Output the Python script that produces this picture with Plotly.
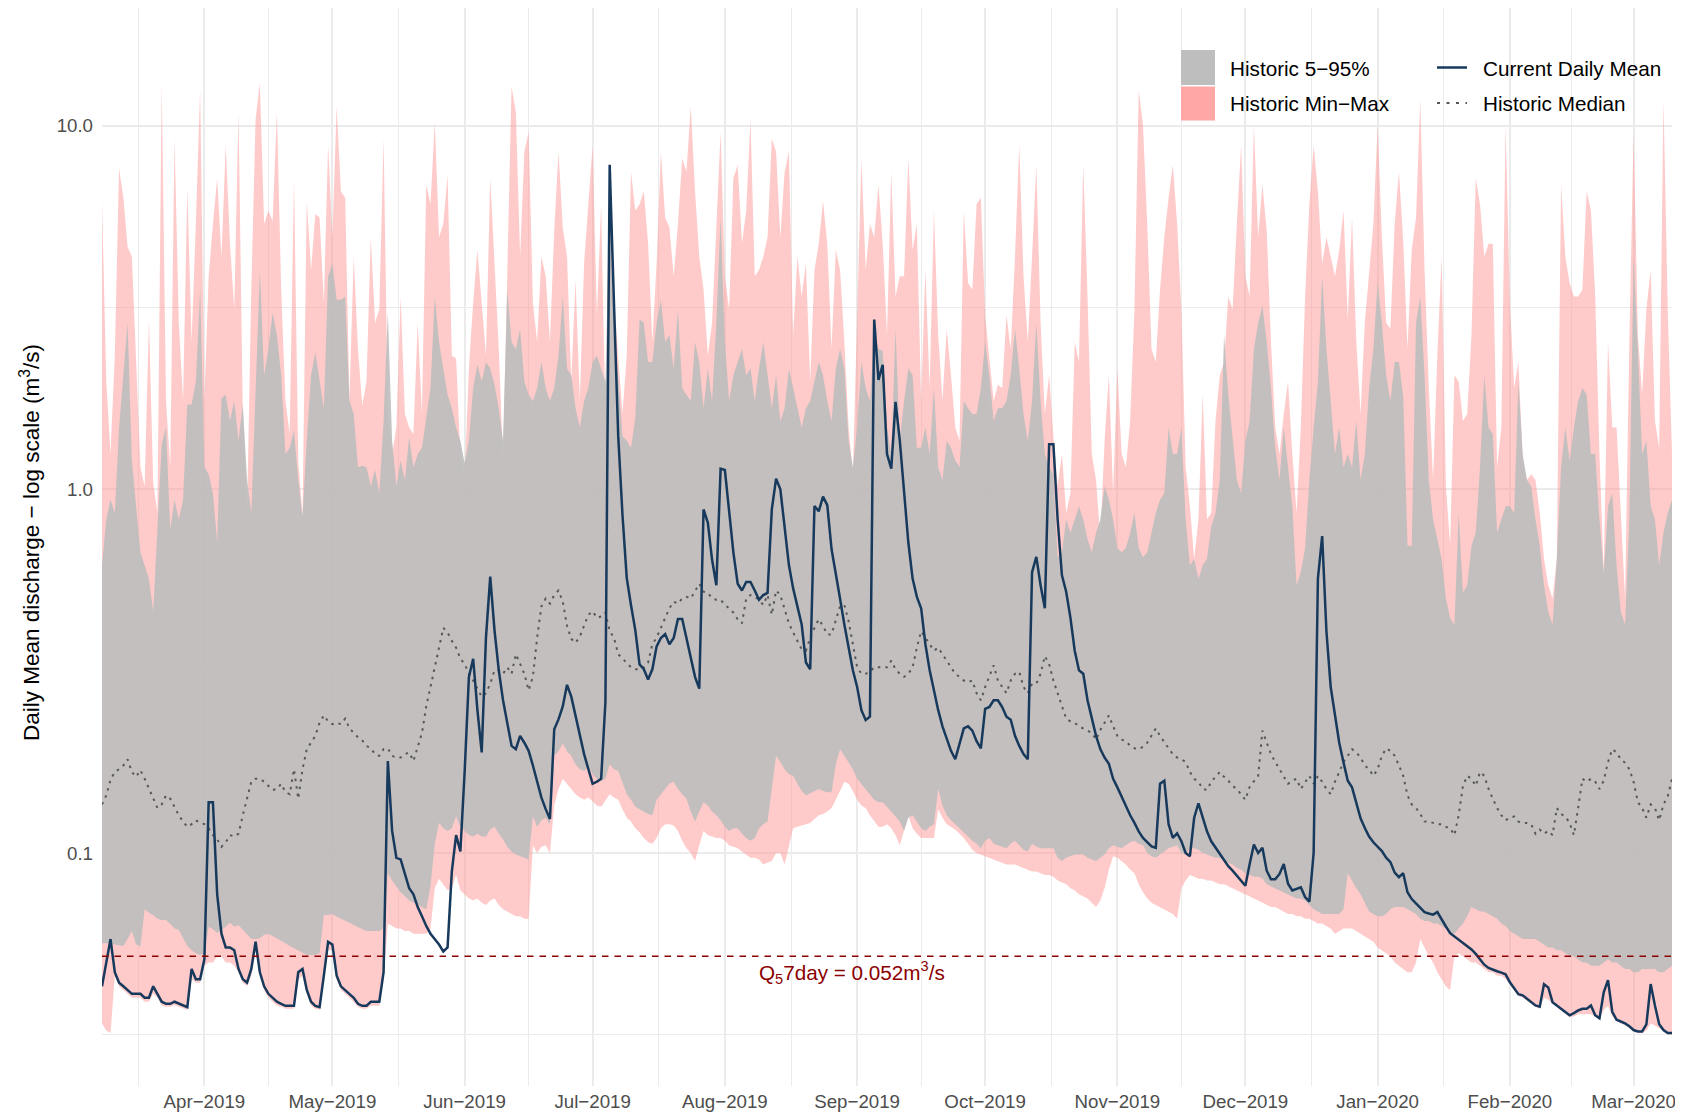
import numpy as np
import pandas as pd
import plotly.graph_objects as go

# ---------------- data (daily, 2019-03-08 .. 2020-03-10) ----------------
dates = pd.date_range("2019-03-08", "2020-03-10", freq="D")

current_mean = [
    0.043, 0.050, 0.058, 0.047, 0.044, 0.043, 0.042, 0.041, 0.041, 0.041,
    0.040, 0.040, 0.043, 0.041, 0.039, 0.0385, 0.0385, 0.039, 0.0385, 0.038,
    0.0377, 0.048, 0.045, 0.045, 0.051, 0.138, 0.138, 0.077, 0.060, 0.055,
    0.055, 0.054, 0.048, 0.045, 0.044, 0.048, 0.057, 0.047, 0.043, 0.041,
    0.040, 0.039, 0.0385, 0.038, 0.038, 0.038, 0.047, 0.048, 0.042, 0.039,
    0.038, 0.0377, 0.046, 0.057, 0.056, 0.046, 0.043, 0.042, 0.041, 0.040,
    0.0385, 0.038, 0.038, 0.039, 0.039, 0.039, 0.047, 0.179, 0.115, 0.097,
    0.096, 0.088, 0.080, 0.077, 0.071, 0.067, 0.063, 0.060, 0.058, 0.056,
    0.0536, 0.055, 0.089, 0.112, 0.101, 0.167, 0.305, 0.342, 0.247, 0.189,
    0.391, 0.575, 0.41, 0.318, 0.263, 0.226, 0.197, 0.193, 0.210, 0.201,
    0.191, 0.174, 0.157, 0.142, 0.132, 0.124, 0.219, 0.233, 0.253, 0.29,
    0.269, 0.237, 0.21, 0.187, 0.170, 0.155, 0.157, 0.160, 0.26, 7.8,
    3.25, 1.4, 0.85, 0.57, 0.48, 0.41, 0.33, 0.32, 0.30, 0.32,
    0.37, 0.39, 0.40, 0.375, 0.39, 0.44, 0.44, 0.39, 0.345, 0.305,
    0.283, 0.88, 0.81, 0.64, 0.545, 1.14, 1.13, 0.86, 0.67, 0.55,
    0.527, 0.556, 0.556, 0.527, 0.497, 0.512, 0.519, 0.88, 1.07, 1.0,
    0.79, 0.62, 0.534, 0.48, 0.425, 0.334, 0.32, 0.90, 0.87, 0.955,
    0.905, 0.685, 0.59, 0.50, 0.425, 0.367, 0.318, 0.286, 0.247, 0.232,
    0.237, 2.93, 2.0, 2.2, 1.25, 1.14, 1.74, 1.36, 0.975, 0.714,
    0.568, 0.506, 0.471, 0.375, 0.318, 0.278, 0.247, 0.223, 0.205, 0.191,
    0.181, 0.201, 0.22, 0.223, 0.217, 0.203, 0.194, 0.249, 0.252, 0.263,
    0.263, 0.252, 0.237, 0.2325, 0.21, 0.197, 0.187, 0.181, 0.592, 0.652,
    0.545, 0.471, 1.33, 1.33, 0.826, 0.58, 0.523, 0.443, 0.36, 0.318,
    0.311, 0.263, 0.2325, 0.21, 0.193, 0.183, 0.176, 0.160, 0.1515, 0.143,
    0.134, 0.127, 0.121, 0.1147, 0.110, 0.107, 0.1043, 0.1034, 0.155, 0.158,
    0.12, 0.110, 0.1133, 0.1077, 0.100, 0.098, 0.125, 0.137, 0.125, 0.1147,
    0.1077, 0.1034, 0.0992, 0.0951, 0.092, 0.0894, 0.0865, 0.084, 0.0813, 0.0932,
    0.1055, 0.100, 0.1034, 0.0894, 0.0847, 0.0847, 0.0876, 0.0932, 0.0823, 0.0789,
    0.0796, 0.0805, 0.0757, 0.0735, 0.10, 0.568, 0.744, 0.407, 0.286, 0.2425,
    0.201, 0.1775, 0.158, 0.1515, 0.1383, 0.1246, 0.1171, 0.111, 0.107, 0.1043,
    0.1012, 0.0971, 0.0944, 0.0883, 0.0858, 0.088, 0.078, 0.0747, 0.0726, 0.0705,
    0.0688, 0.0682, 0.0677, 0.0688, 0.066, 0.0628, 0.0602, 0.059, 0.0578, 0.0566,
    0.0554, 0.0543, 0.0528, 0.051, 0.0493, 0.0483, 0.0477, 0.0473, 0.0469, 0.0464,
    0.0441, 0.0423, 0.0409, 0.0406, 0.0398, 0.0389, 0.0381, 0.0378, 0.0436, 0.0427,
    0.0389, 0.0381, 0.0373, 0.0366, 0.0358, 0.0363, 0.0369, 0.0373, 0.0373, 0.0381,
    0.0358, 0.0351, 0.0414, 0.0447, 0.0366, 0.0348, 0.0344, 0.034, 0.0334, 0.0326,
    0.0323, 0.0323, 0.0338, 0.0436, 0.0381, 0.0338, 0.0326, 0.032, 0.032,
]

hist_median = [
    0.136, 0.144, 0.159, 0.167, 0.170, 0.174, 0.181, 0.167, 0.162, 0.169,
    0.160, 0.150, 0.141, 0.133, 0.136, 0.144, 0.141, 0.134, 0.127, 0.122,
    0.118, 0.120, 0.123, 0.121, 0.120, 0.117, 0.112, 0.109, 0.104, 0.107,
    0.112, 0.111, 0.113, 0.127, 0.141, 0.157, 0.160, 0.160, 0.157, 0.153,
    0.149, 0.150, 0.155, 0.147, 0.145, 0.170, 0.141, 0.170, 0.193, 0.201,
    0.210, 0.228, 0.239, 0.230, 0.226, 0.228, 0.226, 0.234, 0.220, 0.214,
    0.208, 0.204, 0.197, 0.194, 0.187, 0.185, 0.193, 0.194, 0.185, 0.183,
    0.183, 0.187, 0.189, 0.179, 0.197, 0.214, 0.253, 0.286, 0.318, 0.367,
    0.416, 0.404, 0.383, 0.367, 0.342, 0.331, 0.311, 0.298, 0.283, 0.269,
    0.275, 0.292, 0.318, 0.318, 0.311, 0.324, 0.311, 0.352, 0.331, 0.311,
    0.280, 0.305, 0.391, 0.477, 0.501, 0.485, 0.512, 0.527, 0.491, 0.421,
    0.388, 0.378, 0.394, 0.421, 0.452, 0.462, 0.443, 0.447, 0.458, 0.407,
    0.391, 0.352, 0.342, 0.334, 0.324, 0.320, 0.320, 0.324, 0.334, 0.375,
    0.391, 0.416, 0.443, 0.471, 0.491, 0.485, 0.501, 0.506, 0.501, 0.523,
    0.550, 0.523, 0.519, 0.501, 0.497, 0.497, 0.481, 0.471, 0.458, 0.439,
    0.428, 0.501, 0.512, 0.506, 0.497, 0.481, 0.512, 0.452, 0.527, 0.512,
    0.471, 0.428, 0.404, 0.383, 0.363, 0.360, 0.391, 0.416, 0.439, 0.421,
    0.399, 0.399, 0.434, 0.477, 0.481, 0.434, 0.375, 0.324, 0.311, 0.311,
    0.315, 0.324, 0.324, 0.324, 0.324, 0.338, 0.320, 0.311, 0.305, 0.311,
    0.324, 0.367, 0.407, 0.391, 0.375, 0.360, 0.367, 0.352, 0.338, 0.324,
    0.311, 0.305, 0.298, 0.295, 0.298, 0.275, 0.263, 0.286, 0.307, 0.328,
    0.298, 0.286, 0.275, 0.298, 0.311, 0.315, 0.286, 0.275, 0.292, 0.292,
    0.311, 0.348, 0.331, 0.298, 0.275, 0.253, 0.234, 0.230, 0.228, 0.223,
    0.220, 0.217, 0.214, 0.205, 0.218, 0.228, 0.239, 0.223, 0.210, 0.205,
    0.203, 0.197, 0.194, 0.193, 0.196, 0.201, 0.211, 0.220, 0.210, 0.201,
    0.194, 0.187, 0.183, 0.181, 0.178, 0.167, 0.160, 0.157, 0.150, 0.149,
    0.157, 0.162, 0.167, 0.162, 0.158, 0.153, 0.150, 0.145, 0.140, 0.152,
    0.158, 0.163, 0.217, 0.201, 0.187, 0.178, 0.170, 0.163, 0.155, 0.158,
    0.160, 0.150, 0.157, 0.163, 0.155, 0.163, 0.157, 0.150, 0.145, 0.157,
    0.167, 0.178, 0.185, 0.193, 0.189, 0.183, 0.174, 0.170, 0.163, 0.170,
    0.185, 0.194, 0.191, 0.185, 0.174, 0.163, 0.144, 0.136, 0.133, 0.128,
    0.122, 0.122, 0.121, 0.120, 0.120, 0.118, 0.117, 0.112, 0.127, 0.153,
    0.163, 0.160, 0.153, 0.167, 0.163, 0.150, 0.141, 0.133, 0.127, 0.123,
    0.125, 0.126, 0.122, 0.121, 0.121, 0.120, 0.113, 0.116, 0.113, 0.115,
    0.112, 0.133, 0.128, 0.126, 0.121, 0.112, 0.133, 0.160, 0.157, 0.160,
    0.157, 0.150, 0.158, 0.178, 0.193, 0.189, 0.181, 0.177, 0.170, 0.157,
    0.138, 0.133, 0.125, 0.136, 0.133, 0.123, 0.136, 0.143, 0.160,
]

hist_max = [
    6.2, 1.98, 1.25, 2.33, 7.63, 6.33, 4.64, 4.36, 2.24, 1.15,
    1.02, 2.93, 1.04, 0.861, 13.1, 1.75, 1.15, 9.2, 2.87, 1.75,
    6.74, 2.54, 5.36, 12.6, 1.75, 3.85, 5.36, 7.17, 4.36, 8.83,
    4.73, 3.12, 10.9, 1.61, 0.861, 3.54, 10.4, 13.1, 5.36, 5.83,
    5.47, 10.9, 3.54, 1.75, 1.42, 7.17, 1.20, 0.843, 6.20, 4.01,
    5.71, 5.59, 3.26, 8.83, 4.93, 11.3, 6.60, 6.33, 1.75, 4.36,
    2.43, 1.7, 1.98, 4.93, 2.87, 3.12, 9.2, 1.61, 1.25, 1.48,
    3.39, 1.61, 1.48, 1.42, 2.87, 1.61, 6.88, 6.08, 10.2, 4.93,
    5.36, 7.32, 2.33, 2.29, 1.25, 1.06, 2.15, 3.26, 4.55, 3.26,
    2.33, 7.17, 4.18, 2.43, 1.20, 4.36, 12.8, 10.9, 4.36, 8.47,
    9.6, 3.26, 2.54, 4.36, 3.85, 2.54, 5.14, 8.47, 5.25, 4.36,
    1.98, 3.77, 1.75, 4.18, 6.08, 8.83, 3.0, 6.08, 1.54, 8.1,
    3.39, 2.33, 1.61, 2.33, 7.47, 5.83, 6.08, 6.60, 4.73, 2.54,
    4.18, 8.47, 5.59, 5.25, 3.85, 5.36, 8.12, 7.47, 11.3, 6.60,
    4.36, 3.54, 2.33, 2.87, 5.14, 9.6, 3.85, 3.12, 7.17, 7.79,
    4.73, 5.83, 10.4, 3.85, 4.01, 4.36, 4.93, 9.2, 8.47, 4.93,
    7.47, 8.47, 2.65, 4.36, 3.39, 4.18, 1.98, 4.01, 4.73, 6.20,
    4.73, 2.43, 4.55, 4.01, 2.54, 1.48, 1.10, 3.26, 8.12, 4.01,
    5.36, 4.93, 6.88, 4.73, 2.65, 7.47, 3.39, 3.85, 3.85, 8.12,
    4.55, 5.36, 1.75, 4.01, 1.90, 5.83, 2.65, 1.75, 2.76, 2.06,
    1.48, 1.36, 5.83, 3.69, 3.54, 6.08, 6.33, 3.0, 2.33, 1.75,
    1.94, 1.90, 3.0, 2.43, 4.36, 8.83, 3.85, 2.54, 4.36, 7.79,
    2.87, 1.61, 2.06, 1.4, 1.02, 1.25, 0.861, 0.975, 2.54, 2.24,
    7.79, 3.39, 1.25, 1.06, 0.73, 1.36, 2.06, 0.975, 2.15, 1.25,
    1.15, 1.54, 3.12, 12.5, 10.0, 5.36, 2.43, 2.24, 3.54, 4.93,
    6.33, 7.79, 5.36, 3.12, 1.15, 0.898, 0.643, 0.826, 1.82, 0.826,
    0.861, 1.54, 2.06, 2.24, 3.39, 3.12, 5.36, 8.83, 3.85, 3.39,
    10.0, 4.93, 6.88, 5.14, 2.54, 1.48, 1.25, 1.61, 1.98, 1.25,
    0.861, 1.48, 3.39, 6.08, 8.83, 6.60, 4.18, 4.93, 4.36, 3.85,
    4.55, 5.83, 2.93, 5.59, 2.54, 1.61, 2.87, 3.85, 5.36, 10.0,
    4.93, 2.87, 2.76, 5.36, 7.47, 4.8, 2.43, 4.55, 5.59, 11.8,
    4.01, 1.90, 1.06, 2.33, 4.36, 1.02, 0.70, 2.06, 1.98, 1.54,
    1.61, 2.65, 7.17, 6.08, 4.36, 4.73, 4.73, 1.15, 1.48, 10.0,
    3.26, 1.90, 2.24, 1.20, 1.06, 1.10, 1.06, 0.861, 0.643, 0.545,
    0.50, 0.643, 6.88, 4.36, 3.69, 3.39, 3.39, 3.54, 6.60, 5.83,
    3.39, 1.25, 0.59, 2.54, 1.48, 1.48, 0.826, 0.50, 2.54, 9.6,
    2.65, 1.82, 3.12, 4.01, 1.54, 1.30, 11.8, 3.12, 1.25,
]

hist_p95 = [
    0.618, 0.826, 0.936, 0.861, 1.48, 2.06, 2.87, 1.20, 0.898, 0.671,
    0.618, 0.568, 0.4615, 0.760, 1.33, 1.48, 0.776, 0.936, 0.826, 0.936,
    1.71, 1.71, 1.98, 3.54, 1.15, 1.10, 0.975, 0.714, 1.78, 1.82,
    1.54, 1.75, 1.36, 1.71, 1.06, 0.861, 1.98, 4.01, 2.06, 2.43,
    3.06, 2.65, 2.06, 1.25, 1.30, 1.45, 1.06, 0.843, 1.36, 2.06,
    2.38, 1.98, 1.67, 3.85, 4.18, 3.32, 3.32, 3.39, 1.75, 1.61,
    1.15, 1.16, 1.15, 1.02, 1.13, 0.975, 1.54, 3.06, 1.36, 1.02,
    1.20, 1.06, 1.39, 1.15, 1.25, 1.30, 1.57, 1.90, 3.39, 2.54,
    2.15, 1.82, 1.67, 1.48, 1.36, 1.18, 1.36, 1.90, 2.20, 1.98,
    2.24, 2.15, 1.94, 1.67, 1.36, 3.54, 2.54, 2.43, 2.76, 1.98,
    1.82, 1.75, 1.90, 2.24, 1.90, 1.75, 1.90, 2.33, 3.39, 2.15,
    2.06, 1.67, 1.48, 1.75, 1.90, 2.24, 2.33, 2.15, 1.98, 5.83,
    2.65, 2.06, 1.4, 1.36, 1.30, 1.57, 2.93, 2.87, 2.24, 2.24,
    2.87, 3.32, 2.54, 2.65, 2.15, 3.12, 1.90, 1.82, 1.75, 2.54,
    2.24, 1.67, 2.15, 1.75, 2.87, 5.59, 2.54, 1.75, 2.06, 2.24,
    2.43, 2.06, 2.15, 1.75, 2.15, 2.54, 2.06, 1.67, 2.06, 1.54,
    1.67, 2.15, 1.90, 1.67, 1.48, 1.67, 1.75, 1.98, 2.24, 2.06,
    1.75, 1.54, 2.15, 2.43, 2.15, 1.36, 1.15, 1.48, 2.24, 1.90,
    1.75, 2.65, 2.43, 2.4, 1.48, 1.25, 2.76, 1.36, 1.75, 2.15,
    2.06, 1.30, 1.30, 1.48, 1.25, 1.90, 1.15, 1.06, 1.36, 1.30,
    1.20, 1.15, 1.75, 1.67, 1.61, 1.61, 1.90, 2.54, 2.06, 1.54,
    1.67, 1.67, 1.75, 2.06, 2.76, 2.15, 1.61, 1.36, 1.75, 2.87,
    1.75, 1.25, 1.15, 1.10, 0.65, 0.671, 0.826, 0.760, 0.826, 0.898,
    0.826, 0.73, 0.671, 0.760, 0.826, 1.02, 0.936, 0.826, 0.69, 0.671,
    0.69, 0.760, 0.861, 0.69, 0.65, 0.671, 0.760, 0.861, 0.936, 0.975,
    1.48, 1.25, 1.25, 1.48, 0.826, 0.618, 0.643, 0.568, 0.618, 0.643,
    0.79, 0.861, 1.06, 2.65, 1.82, 1.36, 1.06, 0.975, 1.36, 1.54,
    2.43, 2.87, 3.19, 2.54, 1.90, 1.30, 1.06, 1.48, 1.15, 0.898,
    0.545, 0.592, 0.69, 1.06, 1.48, 1.98, 3.85, 2.43, 1.75, 1.25,
    1.48, 1.15, 1.25, 1.15, 1.54, 1.06, 1.25, 1.90, 2.43, 3.71,
    2.87, 2.06, 1.75, 2.24, 2.24, 1.8, 0.70, 0.70, 2.87, 3.39,
    2.06, 1.06, 0.826, 0.73, 0.643, 0.501, 0.443, 0.424, 0.861, 0.52,
    0.545, 0.70, 0.76, 1.15, 2.06, 1.48, 1.42, 0.76, 0.826, 0.898,
    0.898, 0.861, 1.98, 1.25, 1.06, 1.02, 0.826, 0.70, 0.545, 0.4615,
    0.424, 0.643, 1.15, 1.48, 1.20, 1.48, 1.75, 1.90, 1.82, 1.25,
    1.25, 0.826, 0.59, 0.898, 0.975, 0.618, 0.4615, 0.424, 0.826, 4.36,
    2.43, 1.25, 1.36, 0.898, 0.826, 0.618, 0.76, 0.861, 0.936,
]

hist_p5 = [
    0.0565, 0.0565, 0.0565, 0.056, 0.0557, 0.0555, 0.058, 0.061, 0.056, 0.0553,
    0.070, 0.0685, 0.0675, 0.066, 0.0654, 0.0654, 0.0638, 0.062, 0.0614, 0.0583,
    0.0555, 0.054, 0.053, 0.0524, 0.053, 0.0627, 0.0617, 0.0603, 0.0614, 0.0627,
    0.0643, 0.0627, 0.0634, 0.0614, 0.0596, 0.058, 0.058, 0.0583, 0.0596, 0.0599,
    0.0591, 0.0583, 0.0575, 0.0565, 0.0555, 0.0547, 0.054, 0.053, 0.0524, 0.0524,
    0.0524, 0.053, 0.0675, 0.0675, 0.068, 0.0668, 0.066, 0.0654, 0.0643, 0.0634,
    0.0627, 0.0617, 0.061, 0.061, 0.061, 0.061, 0.062, 0.088, 0.084, 0.081,
    0.078, 0.076, 0.074, 0.073, 0.072, 0.071, 0.07, 0.081, 0.106, 0.121,
    0.117, 0.115, 0.117, 0.126, 0.118, 0.115, 0.112, 0.111, 0.113, 0.111,
    0.111, 0.116, 0.118, 0.113, 0.109, 0.104, 0.101, 0.099, 0.098, 0.097,
    0.096, 0.126, 0.118, 0.123, 0.125, 0.12, 0.185, 0.19, 0.2, 0.19,
    0.185, 0.175, 0.17, 0.168, 0.172, 0.165, 0.16, 0.158, 0.16, 0.175,
    0.17, 0.168, 0.155, 0.145, 0.14, 0.134, 0.132, 0.13, 0.128, 0.127,
    0.14, 0.145, 0.15, 0.155, 0.157, 0.15, 0.145, 0.141, 0.13, 0.122,
    0.13, 0.138, 0.135, 0.13, 0.127, 0.123, 0.118, 0.115, 0.117, 0.117,
    0.113, 0.11, 0.108, 0.11, 0.117, 0.12, 0.122, 0.15, 0.185, 0.178,
    0.17, 0.165, 0.163, 0.155, 0.148, 0.144, 0.146, 0.148, 0.15, 0.148,
    0.147, 0.147, 0.175, 0.193, 0.185, 0.178, 0.17, 0.16, 0.155, 0.15,
    0.145, 0.14, 0.138, 0.138, 0.134, 0.13, 0.126, 0.122, 0.115, 0.125,
    0.127, 0.122, 0.117, 0.115, 0.118, 0.12, 0.15, 0.135, 0.127, 0.123,
    0.12, 0.117, 0.114, 0.111, 0.108, 0.106, 0.103, 0.108, 0.11, 0.106,
    0.105, 0.104, 0.103, 0.106, 0.108, 0.105, 0.102, 0.101, 0.106, 0.104,
    0.103, 0.103, 0.103, 0.103, 0.097, 0.095, 0.097, 0.098, 0.099, 0.099,
    0.099, 0.097, 0.096, 0.095, 0.097, 0.099, 0.103, 0.105, 0.104, 0.103,
    0.105, 0.107, 0.108, 0.106, 0.105, 0.1, 0.098, 0.097, 0.099, 0.101,
    0.103, 0.104, 0.105, 0.1, 0.099, 0.103, 0.103, 0.102, 0.1, 0.099,
    0.098, 0.097, 0.097, 0.095, 0.094, 0.093, 0.091, 0.09, 0.088, 0.087,
    0.086, 0.086, 0.085, 0.082, 0.081, 0.08, 0.079, 0.078, 0.077, 0.076,
    0.075, 0.075, 0.074, 0.072, 0.07, 0.069, 0.068, 0.068, 0.068, 0.068,
    0.068, 0.07, 0.088, 0.084, 0.08, 0.077, 0.073, 0.069, 0.068, 0.067,
    0.067, 0.068, 0.07, 0.071, 0.071, 0.071, 0.07, 0.069, 0.068, 0.066,
    0.065, 0.065, 0.064, 0.064, 0.063, 0.062, 0.06, 0.06, 0.062, 0.064,
    0.067, 0.071, 0.07, 0.069, 0.069, 0.068, 0.067, 0.066, 0.064, 0.063,
    0.061, 0.06, 0.059, 0.058, 0.058, 0.058, 0.058, 0.057, 0.056, 0.055,
    0.055, 0.054, 0.054, 0.053, 0.052, 0.052, 0.051, 0.05, 0.05, 0.049,
    0.049, 0.049, 0.05, 0.051, 0.05, 0.05, 0.049, 0.048, 0.048, 0.047,
    0.047, 0.048, 0.048, 0.048, 0.048, 0.047, 0.047, 0.048, 0.049,
]

hist_min = [
    0.034, 0.0325, 0.032, 0.046, 0.043, 0.042, 0.041, 0.040, 0.040, 0.040,
    0.039, 0.039, 0.041, 0.040, 0.038, 0.0378, 0.0378, 0.0382, 0.0378, 0.0373,
    0.037, 0.045, 0.044, 0.044, 0.049, 0.050, 0.050, 0.052, 0.052, 0.050,
    0.050, 0.049, 0.047, 0.044, 0.043, 0.046, 0.054, 0.046, 0.042, 0.040,
    0.039, 0.038, 0.0378, 0.0373, 0.0373, 0.0373, 0.045, 0.046, 0.041, 0.038,
    0.0373, 0.037, 0.045, 0.054, 0.054, 0.045, 0.042, 0.041, 0.040, 0.039,
    0.0378, 0.0373, 0.0373, 0.038, 0.038, 0.038, 0.045, 0.064, 0.063, 0.062,
    0.062, 0.061, 0.061, 0.06, 0.06, 0.06, 0.06, 0.062, 0.08, 0.085,
    0.082, 0.079, 0.08, 0.087, 0.079, 0.077, 0.075, 0.074, 0.075, 0.073,
    0.072, 0.074, 0.075, 0.072, 0.07, 0.069, 0.068, 0.067, 0.067, 0.066,
    0.066, 0.105, 0.1, 0.104, 0.105, 0.1, 0.135, 0.15, 0.16, 0.155,
    0.15, 0.145, 0.142, 0.14, 0.142, 0.138, 0.135, 0.134, 0.14, 0.145,
    0.142, 0.14, 0.132, 0.125, 0.122, 0.117, 0.114, 0.11, 0.107, 0.106,
    0.11, 0.117, 0.12, 0.12, 0.119, 0.115, 0.108, 0.103, 0.1, 0.095,
    0.105, 0.115, 0.112, 0.111, 0.11, 0.11, 0.108, 0.105, 0.104, 0.103,
    0.101, 0.099, 0.097, 0.097, 0.096, 0.093, 0.094, 0.095, 0.1, 0.1,
    0.093, 0.105, 0.117, 0.118, 0.119, 0.12, 0.121, 0.124, 0.127, 0.128,
    0.13, 0.133, 0.14, 0.148, 0.157, 0.155, 0.148, 0.14, 0.135, 0.133,
    0.127, 0.122, 0.118, 0.118, 0.12, 0.117, 0.112, 0.105, 0.115, 0.127,
    0.117, 0.113, 0.11, 0.11, 0.11, 0.11, 0.132, 0.125, 0.12, 0.118,
    0.116, 0.113, 0.11, 0.106, 0.102, 0.1, 0.099, 0.098, 0.097, 0.096,
    0.095, 0.094, 0.093, 0.093, 0.093, 0.092, 0.091, 0.09, 0.089, 0.089,
    0.088, 0.087, 0.087, 0.086, 0.084, 0.083, 0.082, 0.08, 0.079, 0.077,
    0.076, 0.075, 0.073, 0.071, 0.074, 0.08, 0.09, 0.098, 0.097, 0.095,
    0.093, 0.09, 0.088, 0.082, 0.078, 0.075, 0.073, 0.072, 0.071, 0.07,
    0.069, 0.068, 0.066, 0.08, 0.084, 0.087, 0.086, 0.085, 0.085, 0.084,
    0.084, 0.083, 0.082, 0.082, 0.081, 0.08, 0.079, 0.078, 0.077, 0.076,
    0.075, 0.074, 0.073, 0.072, 0.071, 0.071, 0.07, 0.069, 0.068, 0.068,
    0.067, 0.067, 0.066, 0.066, 0.065, 0.064, 0.064, 0.063, 0.062, 0.06,
    0.061, 0.062, 0.062, 0.062, 0.061, 0.06, 0.059, 0.058, 0.057, 0.055,
    0.054, 0.053, 0.052, 0.05, 0.049, 0.048, 0.047, 0.047, 0.05, 0.058,
    0.055, 0.052, 0.05, 0.047, 0.045, 0.043, 0.042, 0.052, 0.053, 0.052,
    0.051, 0.05, 0.05, 0.049, 0.048, 0.047, 0.047, 0.046, 0.046, 0.045,
    0.0435, 0.042, 0.0405, 0.040, 0.0393, 0.0385, 0.0377, 0.0373, 0.040, 0.0395,
    0.0385, 0.0377, 0.0369, 0.0362, 0.0354, 0.0355, 0.036, 0.036, 0.036, 0.036,
    0.0355, 0.035, 0.037, 0.038, 0.0355, 0.0345, 0.034, 0.0336, 0.033, 0.0323,
    0.032, 0.032, 0.0325, 0.034, 0.0335, 0.033, 0.0323, 0.0317, 0.0317,
]

q5_7day = 0.052

month_ticks = pd.date_range("2019-04-01", "2020-03-01", freq="MS")
month_labels = [d.strftime("%b") + "\u2212" + d.strftime("%Y") for d in month_ticks]

n = len(dates)
for arr in (current_mean, hist_median, hist_max, hist_p95, hist_p5, hist_min):
    assert len(arr) == n, len(arr)

# ---------------- styling ----------------
FONT = "Liberation Sans, Arial, Helvetica, sans-serif"
PINK = "rgba(255,150,150,0.5)"
GREY = "rgba(190,190,190,0.92)"
NAVY = "#17395C"
MED = "#585858"
RED = "#8B0000"

# The page body has an 8px default margin: size the figure to fill the rest.
OFF = 8
W, H = 1683 - OFF, 1114 - OFF
ML, MR, MT, MB = 102 - OFF, 11, 0, 28
PW, PH = W - ML - MR, H - MT - MB
# panel spans page y 8..1086 ; 10.0 gridline at page y 125.6, 363.7 px/decade
Y_TOP = 1 + (125.6 - (MT + OFF)) / 363.7
Y_BOT = 1 - ((H - MB + OFF) - 125.6) / 363.7


def px(xpage):
    return (xpage - OFF - ML) / PW


def py(ypage):
    return (H - MB - (ypage - OFF)) / PH


fig = go.Figure()

fig.add_trace(go.Scatter(x=dates, y=hist_max, mode="lines", line=dict(width=0),
                         hoverinfo="skip", showlegend=False))
fig.add_trace(go.Scatter(x=dates, y=hist_min, mode="lines", line=dict(width=0),
                         fill="tonexty", fillcolor=PINK, name="Historic Min\u2212Max",
                         showlegend=False))
fig.add_trace(go.Scatter(x=dates, y=hist_p95, mode="lines", line=dict(width=0),
                         hoverinfo="skip", showlegend=False))
fig.add_trace(go.Scatter(x=dates, y=hist_p5, mode="lines", line=dict(width=0),
                         fill="tonexty", fillcolor=GREY, name="Historic 5\u221295%",
                         showlegend=False))
fig.add_trace(go.Scatter(x=dates, y=hist_median, mode="lines",
                         line=dict(color=MED, width=2, dash="2.5px,5px"),
                         name="Historic Median", showlegend=False))
fig.add_trace(go.Scatter(x=dates, y=current_mean, mode="lines",
                         line=dict(color=NAVY, width=2.5),
                         name="Current Daily Mean", showlegend=False))
fig.add_trace(go.Scatter(x=[dates[0], dates[-1]], y=[q5_7day, q5_7day], mode="lines",
                         line=dict(color=RED, width=1.6, dash="6.5px,6px"),
                         hoverinfo="skip", showlegend=False))

# minor x grid at mid-month
starts = pd.date_range("2019-03-01", "2020-04-01", freq="MS")
minor_x = [starts[i] + (starts[i + 1] - starts[i]) / 2 for i in range(len(starts) - 1)]
minor_x = [d for d in minor_x if dates[0] <= d <= dates[-1]]

fig.update_layout(
    width=W, height=H,
    margin=dict(l=ML, r=MR, t=MT, b=MB, pad=0),
    plot_bgcolor="white", paper_bgcolor="white",
    showlegend=False,
    font=dict(family=FONT),
    xaxis=dict(
        type="date", range=[dates[0], dates[-1]],
        tickmode="array", tickvals=list(month_ticks), ticktext=month_labels,
        showgrid=True, gridcolor="#EBEBEB", gridwidth=2,
        zeroline=False, showline=False, ticks="", automargin=False,
        tickfont=dict(family=FONT, size=18.7, color="#4D4D4D"),
        ticklabelstandoff=2,
        minor=dict(tickmode="array", tickvals=minor_x, showgrid=True,
                   gridcolor="#EBEBEB", gridwidth=1, ticks=""),
    ),
    yaxis=dict(
        type="log", range=[Y_BOT, Y_TOP],
        tickmode="array", tickvals=[0.1, 1, 10], ticktext=["0.1", "1.0", "10.0"],
        showgrid=True, gridcolor="#EBEBEB", gridwidth=2,
        zeroline=False, showline=False, ticks="", automargin=False,
        tickfont=dict(family=FONT, size=18.7, color="#4D4D4D"),
        ticklabelstandoff=8,
        minor=dict(tickmode="array", tickvals=[10 ** -1.5, 10 ** -0.5, 10 ** 0.5],
                   showgrid=True, gridcolor="#EBEBEB", gridwidth=1, ticks=""),
    ),
)

# manual legend (page pixel positions)
shapes = [
    dict(type="rect", xref="paper", yref="paper", x0=px(1181), x1=px(1215),
         y0=py(85), y1=py(50), fillcolor="#BEBEBE", line=dict(width=0)),
    dict(type="rect", xref="paper", yref="paper", x0=px(1181), x1=px(1215),
         y0=py(120.5), y1=py(86.5), fillcolor="#FFA6A6", line=dict(width=0)),
    dict(type="line", xref="paper", yref="paper", x0=px(1437), x1=px(1467),
         y0=py(67.5), y1=py(67.5), line=dict(color=NAVY, width=2.5)),
    dict(type="line", xref="paper", yref="paper", x0=px(1437), x1=px(1467),
         y0=py(103), y1=py(103), line=dict(color=MED, width=2, dash="3px,6.5px")),
]
fig.update_layout(shapes=shapes)

legend_texts = [
    ("Historic 5\u221295%", 1228, 68.5),
    ("Historic Min\u2212Max", 1228, 103),
    ("Current Daily Mean", 1481, 68.5),
    ("Historic Median", 1481, 103),
]
for txt, x0, y0 in legend_texts:
    fig.add_annotation(text=txt, xref="paper", yref="paper", x=px(x0), y=py(y0),
                       xanchor="left", yanchor="middle", showarrow=False,
                       font=dict(family=FONT, size=20.7, color="black"))

# threshold label
fig.add_annotation(text="Q<sub>5</sub>7day = 0.052m<sup>3</sup>/s",
                   xref="paper", yref="paper", x=px(852), y=py(972),
                   xanchor="center", yanchor="middle", showarrow=False,
                   font=dict(family=FONT, size=20.7, color=RED))

# y axis title
fig.add_annotation(text="Daily Mean discharge \u2212 log scale (m<sup>3</sup>/s)",
                   xref="paper", yref="paper", x=px(30), y=py(543),
                   xanchor="center", yanchor="middle", textangle=-90, showarrow=False,
                   font=dict(family=FONT, size=22.5, color="black"))

fig.write_html("out.html")
